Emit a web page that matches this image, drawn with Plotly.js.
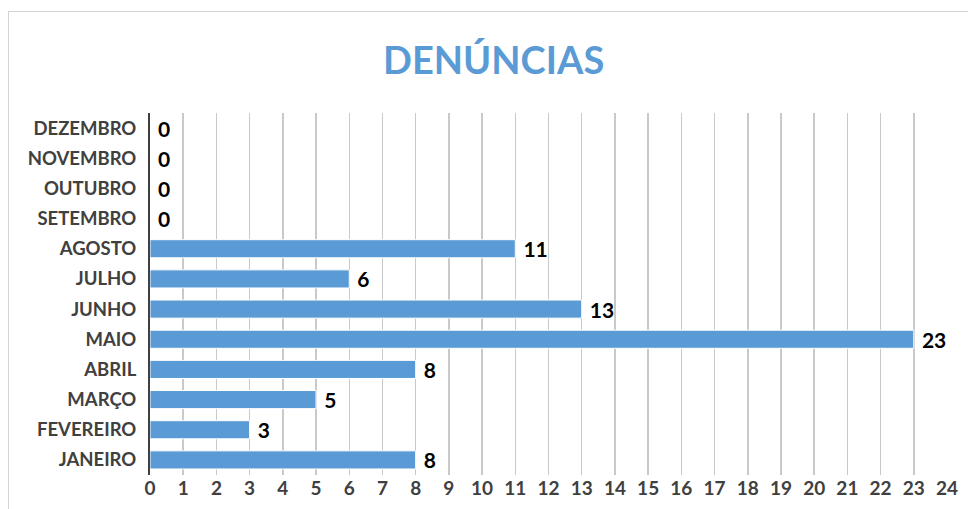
<!DOCTYPE html>
<html>
<head>
<meta charset="utf-8">
<script src="https://cdn.plot.ly/plotly-3.0.1.min.js"></script>
<style>
  html, body { margin: 0; padding: 0; background: #fff; overflow: hidden; }
  #frame { position: absolute; left: 8px; top: 11px; width: 1000px; height: 600px; border: 1.5px solid #d4d4d4; box-sizing: border-box; }
  #chart { position: absolute; left: 0; top: 0; width: 968px; height: 509px; }
</style>
</head>
<body>
<div id="frame"></div>
<div id="chart"></div>
<script>
const months = ["JANEIRO", "FEVEREIRO", "MARÇO", "ABRIL", "MAIO", "JUNHO", "JULHO", "AGOSTO", "SETEMBRO", "OUTUBRO", "NOVEMBRO", "DEZEMBRO"];
const denuncias = [8, 3, 5, 8, 23, 13, 6, 11, 0, 0, 0, 0];
const xTicks = [0,1,2,3,4,5,6,7,8,9,10,11,12,13,14,15,16,17,18,19,20,21,22,23,24];

const trace = {
  type: "bar",
  orientation: "h",
  y: months,
  x: denuncias,
  marker: { color: "#5B9BD5", line: { color: "#ffffff", width: 1 } },
  text: denuncias.map(String),
  texttemplate: " %{text}",
  textposition: "outside",
  constraintext: "none",
  cliponaxis: false,
  textfont: { family: "Lato, 'Open Sans', sans-serif", size: 21, color: "#000000", weight: "bold" },
  hoverinfo: "none"
};

const layout = {
  width: 968,
  height: 509,
  paper_bgcolor: "rgba(0,0,0,0)",
  plot_bgcolor: "rgba(0,0,0,0)",
  margin: { l: 150, r: 21, t: 113, b: 34 },
  bargap: 0.4,
  showlegend: false,
  title: {
    text: "DENÚNCIAS",
    x: 0.51, xanchor: "center",
    y: 0.88, yanchor: "middle",
    font: { family: "Lato, 'Open Sans', sans-serif", size: 38, color: "#5B9BD5", weight: "bold" }
  },
  xaxis: {
    range: [0, 24],
    tickvals: xTicks,
    ticktext: xTicks.map(String),
    showgrid: true,
    gridcolor: "#c9c9c9",
    gridwidth: 1.5,
    zeroline: false,
    showline: false,
    ticks: "",
    fixedrange: true,
    tickfont: { family: "Lato, 'Open Sans', sans-serif", size: 19, color: "#404040", weight: "bold" }
  },
  yaxis: {
    type: "category",
    categoryorder: "array",
    categoryarray: months,
    showgrid: false,
    zeroline: false,
    showline: true,
    linecolor: "#404040",
    linewidth: 2,
    ticks: "",
    ticklabelstandoff: 8,
    fixedrange: true,
    tickfont: { family: "Lato, 'Open Sans', sans-serif", size: 18.5, color: "#404040", weight: "bold" }
  }
};

Plotly.newPlot("chart", [trace], layout, { displayModeBar: false, staticPlot: true });
</script>
</body>
</html>
